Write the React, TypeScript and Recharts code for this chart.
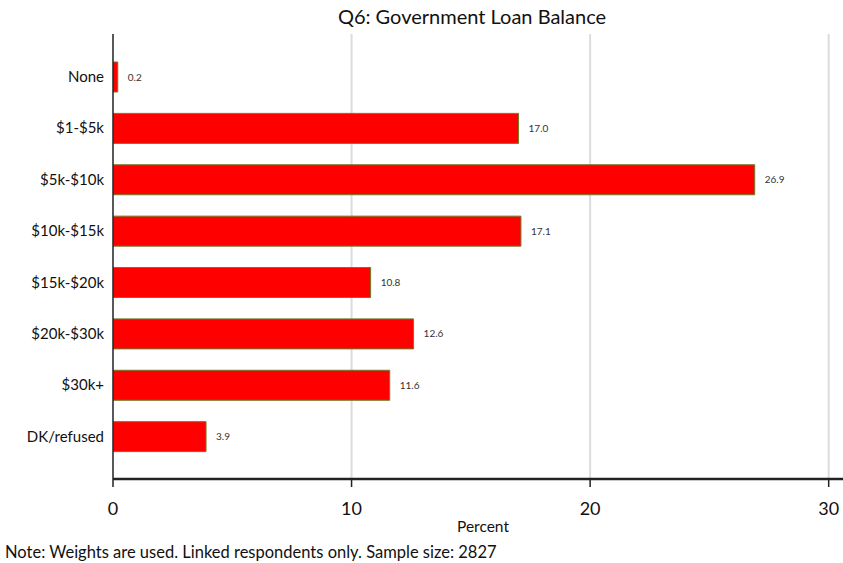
import { BarChart, Bar, XAxis, YAxis, CartesianGrid, LabelList } from "recharts";

const categories = [
  "None",
  "$1-$5k",
  "$5k-$10k",
  "$10k-$15k",
  "$15k-$20k",
  "$20k-$30k",
  "$30k+",
  "DK/refused",
];
const percents = [0.2, 17.0, 26.9, 17.1, 10.8, 12.6, 11.6, 3.9];
const xTicks = [0, 10, 20, 30];
const gridValues = [10, 20, 30];

const data = categories.map((name, i) => ({ name, pct: percents[i] }));

const font = "Lato, 'Open Sans', sans-serif";

export default function App() {
  return (
    <div
      style={{
        position: "absolute",
        left: 0,
        top: 0,
        width: 843,
        height: 563,
        background: "#fff",
        fontFamily: font,
      }}
    >
      <div
        style={{
          position: "absolute",
          top: 4,
          left: 112,
          width: 720,
          textAlign: "center",
          fontSize: 20,
          color: "#111",
        }}
      >
        Q6: Government Loan Balance
      </div>
      <BarChart
        width={843}
        height={563}
        data={data}
        layout="vertical"
        margin={{ top: 34, right: 0, left: 0, bottom: 0 }}
      >
        <CartesianGrid
          horizontal={false}
          verticalValues={gridValues}
          stroke="#dcdcdc"
          strokeWidth={2}
        />
        <XAxis
          type="number"
          domain={[0, 30.6]}
          ticks={xTicks}
          allowDataOverflow
          height={84}
          tickSize={8}
          tickMargin={15}
          tick={{ fontSize: 18, fill: "#111", fontFamily: font }}
          axisLine={{ stroke: "#222", strokeWidth: 2.5 }}
          tickLine={{ stroke: "#222", strokeWidth: 1.5 }}
          label={{
            value: "Percent",
            position: "insideTop",
            offset: 42,
            dx: 5,
            fontSize: 15.5,
            fill: "#111",
            fontFamily: font,
          }}
        />
        <XAxis
          xAxisId="top"
          orientation="top"
          type="number"
          domain={[0, 30.6]}
          height={0}
          tick={false}
          tickLine={false}
          axisLine={{ stroke: "#222", strokeWidth: 1.5 }}
        />
        <YAxis
          type="category"
          dataKey="name"
          width={113}
          tickSize={0}
          tickMargin={9}
          padding={{ top: 17, bottom: 17 }}
          tick={{ fontSize: 15, fill: "#111", fontFamily: font }}
          axisLine={{ stroke: "#222", strokeWidth: 1.5 }}
          tickLine={false}
        />
        <Bar
          dataKey="pct"
          fill="#ff0000"
          stroke="#6b7d2a"
          strokeWidth={1}
          barSize={30}
          isAnimationActive={false}
        >
          <LabelList
            dataKey="pct"
            position="right"
            offset={10}
            formatter={(v: number) => v.toFixed(1)}
            style={{ fontSize: 10, fill: "#333", fontFamily: font }}
          />
        </Bar>
      </BarChart>
      <div
        style={{
          position: "absolute",
          top: 542,
          left: 5,
          fontSize: 16.5,
          color: "#111",
        }}
      >
        Note: Weights are used. Linked respondents only. Sample size: 2827
      </div>
    </div>
  );
}
